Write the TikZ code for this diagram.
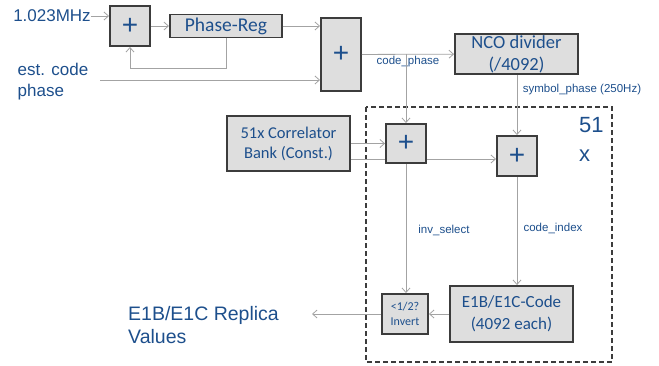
\documentclass[tikz,border=0pt]{standalone}
\usepackage{fontspec}
\setmainfont{Liberation Sans}
\newfontfamily\boxfont{Carlito}
\usepackage{xcolor}
\usetikzlibrary{positioning, arrows.meta, calc}
\definecolor{labelBlue}{HTML}{1D4F8C}
\definecolor{boxFill}{HTML}{DEDEDE}
\definecolor{boxLine}{HTML}{3C3C3C}
\definecolor{wire}{HTML}{A3A3A3}

\begin{document}
\begin{tikzpicture}[x=1pt, y=-1pt, every node/.style={align=center, text=labelBlue, inner sep=0pt}]
    \tikzset{blockbox/.style={draw=boxLine, fill=boxFill, line width=1.9pt, font=\boxfont\fontsize{18.5}{22}\selectfont},
      adder/.style={blockbox, minimum width=40pt, minimum height=40pt, font=\fontsize{28}{28}\selectfont},
      flowline/.style={draw=wire, line width=0.8pt},
      flow/.style={flowline, -{Straight Barb[length=4.5pt,width=8pt]}},
      sig/.style={font=\fontsize{11.5}{13}\selectfont},
      intext/.style={font=\fontsize{17}{21}\selectfont}}
    \useasboundingbox (0,0) rectangle (659,365);

    % phase accumulator
    \node[adder] (plus1) at (130,26) {+};
    \node[blockbox, minimum width=112pt, minimum height=23pt, right=18pt of plus1, font=\boxfont\fontsize{19.5}{22}\selectfont] (phasereg) {Phase-Reg};
    \node[adder, minimum height=73pt] (plus2) at (341,54.5) {+};
    \node[blockbox, minimum width=123pt, minimum height=40pt] (nco) at (516.5,54) {NCO divider\\(/4092)};
    \node[intext] (freq) at (52,16) {1.023MHz};
    \node[intext, align=left] (est) at (53,82) {est. code\\phase};

    % one replica channel, repeated 51 times
    \draw[boxLine, line width=1.9pt, dash pattern=on 5pt off 3pt] (366,107) rectangle (612,362);
    \node[font=\fontsize{22}{29}\selectfont, align=left, anchor=west] (count) at (579,139) {51\\x};
    \node[blockbox, minimum width=123pt, minimum height=55pt, font=\boxfont\fontsize{16.5}{20}\selectfont] (corr) at (288.5,143.5) {51x Correlator\\Bank (Const.)};
    \node[adder, minimum height=39pt] (plus3) at (406,143.5) {+};
    \node[adder] (plus4) at (517,156) {+};
    \node[blockbox, minimum width=46pt, minimum height=40pt, font=\boxfont\fontsize{12}{14.5}\selectfont] (inv) at (405,314) {<1/2?\\Invert};
    \node[blockbox, minimum width=123pt, minimum height=56pt, font=\boxfont\fontsize{17}{22}\selectfont] (code) at (511.5,314) {E1B/E1C-Code\\(4092 each)};
    \node[font=\fontsize{19.5}{23}\selectfont, align=left, anchor=west] (replica) at (128,325) {E1B/E1C Replica\\Values};
    \coordinate (out) at (312,314);

    % signal names
    \node[sig] (lblphase) at (408,62) {code\_phase};
    \node[sig] (lblsym) at (582,90) {symbol\_phase (250Hz)};
    \node[sig] (lblinv) at (444,230) {inv\_select};
    \node[sig] (lblidx) at (553,228) {code\_index};

    \draw[flow] (freq.east) -- (freq.east -| plus1.west);
    \draw[flow] (plus1) -- (phasereg);
    \draw[flow] (phasereg.south) -- ++(0,30) -| (plus1.south);
    \draw[flow] (phasereg.east) -- (phasereg.east -| plus2.west);
    \draw[flow] ([xshift=12pt,yshift=2pt]est.east) -- ([yshift=2pt]est.east -| plus2.west);
    \draw[flow] (plus2) -- (nco);
    \draw[flow] (plus3 |- nco) -- (plus3.north);
    \draw[flow] (nco.south -| plus4) -- (plus4.north);
    \draw[flow] (corr) -- (plus3);
    \draw[flowline] ([yshift=-15.5pt]corr.east) -- ([yshift=-15.5pt]plus3.west);
    \draw[flow] ([yshift=-15.5pt]plus3.east) -- ([yshift=-15.5pt]plus3.east -| plus4.west);
    \draw[flow] (plus3.south) -- (plus3.south |- inv.north);
    \draw[flow] (plus4.south) -- (plus4.south |- code.north);
    \draw[flow] (code) -- (inv);
    \draw[flow] (inv) -- (out);
\end{tikzpicture}
\end{document}
